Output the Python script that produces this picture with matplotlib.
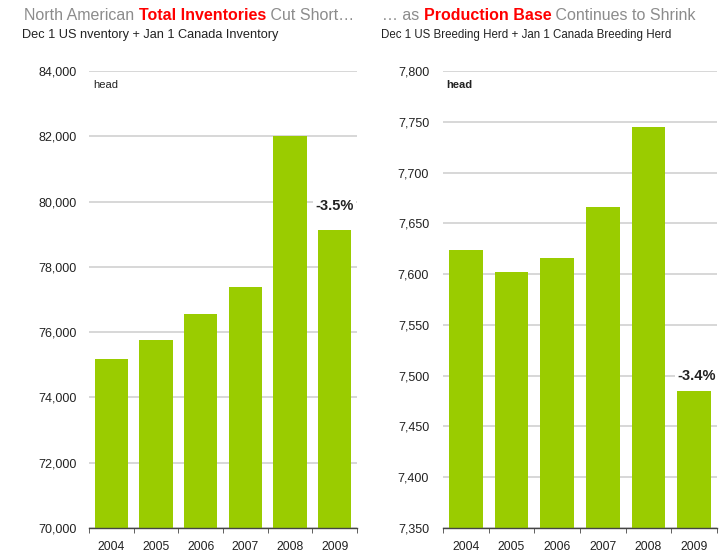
import matplotlib
matplotlib.use("Agg")
import matplotlib.pyplot as plt
from matplotlib.ticker import FuncFormatter, FixedLocator

years = ["2004", "2005", "2006", "2007", "2008", "2009"]
inventory = [75174, 75755, 76550, 77376, 82000, 79130]
breeding = [7624, 7602, 7616, 7666, 7745, 7485]
inv_change = "-3.5%"
brd_change = "-3.4%"

plt.rcParams["font.family"] = ["Liberation Sans", "DejaVu Sans"]

BAR = "#9ACC00"
GRID = "#D4D4D4"
TXT = "#222222"

fig = plt.figure(figsize=(7.21, 5.53), dpi=100)
W, H = 721, 553

def make_ax(x0, x1, y0, y1):
    return fig.add_axes([x0 / W, 1 - y1 / H, (x1 - x0) / W, (y1 - y0) / H])

axL = make_ax(89, 357, 71, 528)
axR = make_ax(443, 717, 71, 528)

def style(ax, vals, lo, hi, step, pad):
    x = list(range(len(vals)))
    ax.bar(x, vals, width=0.74, color=BAR, zorder=3)
    ax.set_xlim(-0.5, len(vals) - 0.5)
    ax.set_ylim(lo, hi)
    ticks = list(range(lo, hi + 1, step))
    ax.yaxis.set_major_locator(FixedLocator(ticks))
    ax.yaxis.set_major_formatter(FuncFormatter(lambda v, p: f"{int(v):,}"))
    ax.grid(axis="y", color=GRID, linewidth=1.3, zorder=0)
    ax.set_axisbelow(True)
    for s in ["top", "right", "left"]:
        ax.spines[s].set_visible(False)
    ax.spines["bottom"].set_color("#444444")
    ax.spines["bottom"].set_linewidth(1.0)
    ax.spines["bottom"].set_zorder(4)
    ax.set_xticks(x)
    ax.set_xticklabels(years)
    ax.set_xticks([i - 0.5 for i in range(len(vals) + 1)], minor=True)
    ax.tick_params(axis="x", which="major", length=0, pad=9.5, labelsize=8.8, labelcolor=TXT)
    ax.tick_params(axis="x", which="minor", length=3.5, direction="out", color="#444444")
    ax.tick_params(axis="y", length=0, pad=pad, labelsize=9, labelcolor=TXT)

style(axL, inventory, 70000, 84000, 2000, 9)
style(axR, breeding, 7350, 7800, 50, 10)

axL.text(4 / 268, 1 - 14 / 457, "head", transform=axL.transAxes, fontsize=8, color=TXT, va="center", ha="left")
axR.text(3 / 274, 1 - 14 / 457, "head", transform=axR.transAxes, fontsize=8, color=TXT, va="center", ha="left", fontweight="bold")

bbox = dict(facecolor="white", edgecolor="none", pad=1.5)
axL.text(5, inventory[5] + 520, inv_change, ha="center", va="bottom", fontsize=10.5, fontweight="bold", color=TXT, bbox=bbox, zorder=5)
axR.text(5.05, breeding[5] + 8, brd_change, ha="center", va="bottom", fontsize=10.5, fontweight="bold", color=TXT, bbox=bbox, zorder=5)

renderer = fig.canvas.get_renderer()

def multi_text(x_px, y_px, parts, size):
    x = x_px
    for s, color, weight in parts:
        t = fig.text(x / W, 1 - y_px / H, s, color=color, fontweight=weight, fontsize=size, va="center", ha="left")
        bb = t.get_window_extent(renderer=renderer)
        x += bb.width

GRAY = "#8C8C8C"
RED = "#FF0000"
multi_text(24, 16, [("North American ", GRAY, "normal"), ("Total Inventories", RED, "bold"), (" Cut Short\u2026", GRAY, "normal")], 11.5)
multi_text(382, 16, [("\u2026 as ", GRAY, "normal"), ("Production Base", RED, "bold"), (" Continues to Shrink", GRAY, "normal")], 11.5)
fig.text(22 / W, 1 - 35 / H, "Dec 1 US nventory + Jan 1 Canada Inventory", fontsize=9.2, color=TXT, va="center", ha="left")
fig.text(381 / W, 1 - 35 / H, "Dec 1 US Breeding Herd + Jan 1 Canada Breeding Herd", fontsize=8.3, color=TXT, va="center", ha="left")

fig.savefig("out.png", dpi=100)
